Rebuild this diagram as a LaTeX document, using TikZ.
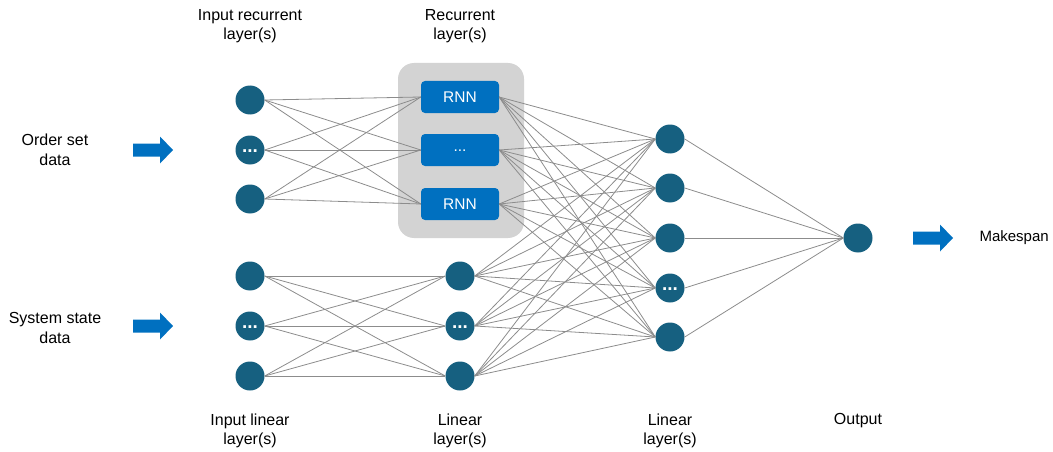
\documentclass[tikz,border=0pt]{standalone}
\usepackage{fontspec}
\setmainfont{Liberation Sans}
\definecolor{neuron}{RGB}{22,96,128}
\definecolor{rnnblue}{RGB}{0,112,192}
\definecolor{boxgrey}{RGB}{211,211,211}
\definecolor{wire}{RGB}{140,140,140}
\begin{document}
\begin{tikzpicture}[x=1pt,y=-1pt,
  neuron/.style={circle,fill=neuron,minimum size=29pt,inner sep=0pt,text=white,font=\fontsize{19}{19}\selectfont\bfseries},
  rnn/.style={rectangle,rounded corners=4pt,fill=rnnblue,minimum width=78pt,minimum height=32pt,inner sep=0pt,text=white,font=\fontsize{15.5}{15.5}\selectfont},
  wire/.style={draw=wire,line width=0.8pt},
  lbl/.style={align=center,font=\fontsize{16}{19.5}\selectfont,text=black},
  bigarrow/.style={fill=rnnblue}
]
\useasboundingbox (0,0) rectangle (1053,452);
% grey recurrent box
\node[fill=boxgrey,rounded corners=16pt,minimum width=126pt,minimum height=175pt,inner sep=0pt] (rbox) at (461,150.5) {};
% input recurrent
\node[neuron] (a1) at (250,100) {};
\node[neuron] (a2) at (250,150) {\raisebox{-4pt}{...}};
\node[neuron] (a3) at (250,199) {};
% RNN
\node[rnn] (r1) at (460,97) {RNN};
\node[rnn] (r2) at (460,150) {\raisebox{-2pt}{...}};
\node[rnn] (r3) at (460,204) {RNN};
% input linear
\node[neuron] (b1) at (250,276) {};
\node[neuron] (b2) at (250,326) {\raisebox{-4pt}{...}};
\node[neuron] (b3) at (250,376) {};
% linear mid
\node[neuron] (c1) at (460,276) {};
\node[neuron] (c2) at (460,326) {\raisebox{-4pt}{...}};
\node[neuron] (c3) at (460,376) {};
% linear 2
\node[neuron] (d1) at (670,139) {};
\node[neuron] (d2) at (670,188) {};
\node[neuron] (d3) at (670,238) {};
\node[neuron] (d4) at (670,288) {\raisebox{-4pt}{...}};
\node[neuron] (d5) at (670,337) {};
% output
\node[neuron] (o) at (858,238) {};
% connections
\foreach \i in {1,2,3}{
  \foreach \j in {1,2,3}{
    \draw[wire] (a\i.east) -- (r\j.west);
    \draw[wire] (b\i.east) -- (c\j.west);
  }
  \foreach \k in {1,...,5}{
    \draw[wire] (r\i.east) -- (d\k.west);
    \draw[wire] (c\i.east) -- (d\k.west);
  }
}
\foreach \k in {1,...,5}{
  \draw[wire] (d\k.east) -- (o.west);
}
% arrows
\foreach \ax/\ay in {133/150,133/326,913/238}{
  \fill[bigarrow] (\ax,\ay-6.5) -- ++(27,0) -- ++(0,-7) -- ++(13,13.5) -- ++(-13,13.5) -- ++(0,-7) -- ++(-27,0) -- cycle;
}
% labels
\node[lbl] (t1) at (250,26) {Input recurrent\\layer(s)};
\node[lbl] (t2) at (460,26) {Recurrent\\layer(s)};
\node[lbl] (t3) at (55,150) {Order set\\data};
\node[lbl] (t4) at (55,328) {System state\\data};
\node[lbl] (t5) at (250,431) {Input linear\\layer(s)};
\node[lbl] (t6) at (460,431) {Linear\\layer(s)};
\node[lbl] (t7) at (670,431) {Linear\\layer(s)};
\node[lbl] (t8) at (858,421) {Output};
\node[lbl,anchor=west,font=\fontsize{15}{18}\selectfont] (t9) at (976,238) {Makespan};
\end{tikzpicture}
\end{document}
